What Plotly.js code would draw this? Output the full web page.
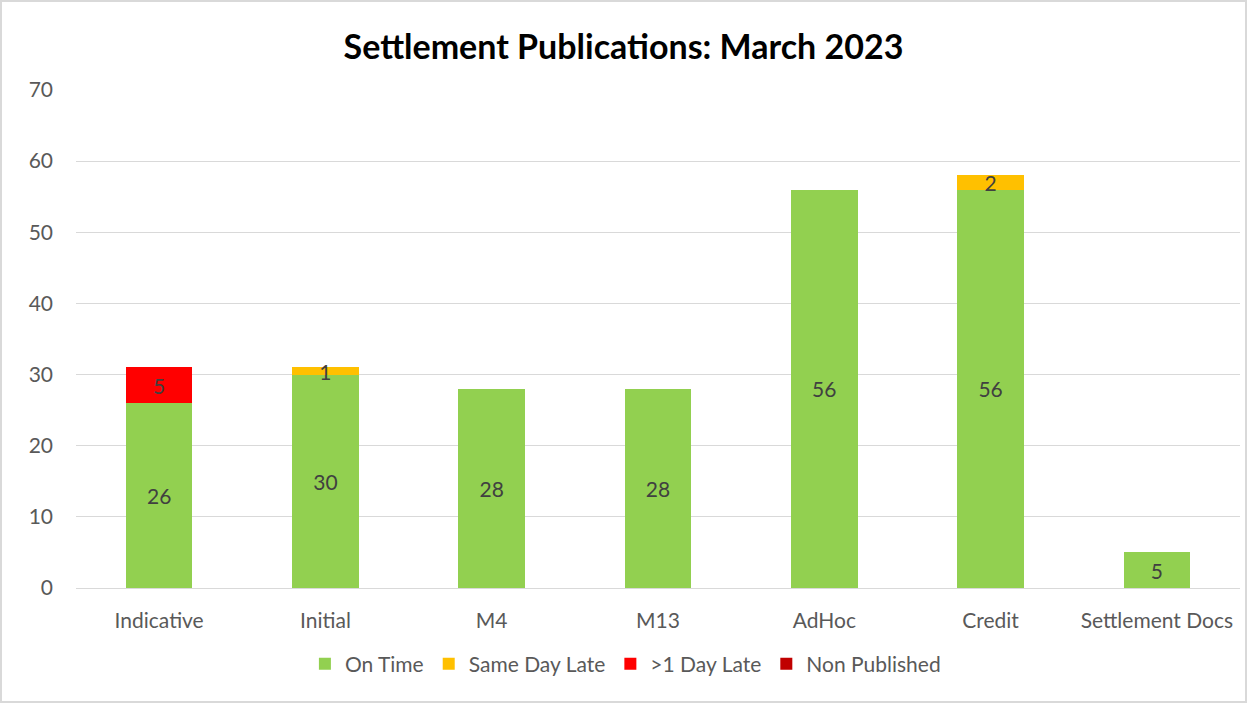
<!DOCTYPE html>
<html>
<head>
<meta charset="utf-8">
<script src="https://cdn.plot.ly/plotly-3.0.1.min.js"></script>
<style>
html,body{margin:0;padding:0;background:#fff;}
#chart{width:1247px;height:703px;box-sizing:border-box;border:2px solid #d9d9d9;}
</style>
</head>
<body>
<div id="chart"></div>
<script>
const categories = ["Indicative", "Initial", "M4", "M13", "AdHoc", "Credit", "Settlement Docs"];
const onTime = [26, 30, 28, 28, 56, 56, 5];
const sameDayLate = [0, 1, 0, 0, 0, 2, 0];
const overOneDayLate = [5, 0, 0, 0, 0, 0, 0];
const nonPublished = [0, 0, 0, 0, 0, 0, 0];

const seriesNames = ["On Time", "Same Day Late", ">1 Day Late", "Non Published"];
const seriesColors = ["#92D050", "#FFC000", "#FF0000", "#C00000"];
const seriesValues = [onTime, sameDayLate, overOneDayLate, nonPublished];

const font = "Lato, Open Sans, sans-serif";

const traces = seriesValues.map((vals, i) => ({
  type: "bar",
  name: seriesNames[i],
  x: categories,
  y: vals,
  marker: {color: seriesColors[i]},
  text: vals.map(v => v > 0 ? String(v) : ""),
  textposition: "inside",
  insidetextanchor: "middle",
  constraintext: "none",
  textangle: 0,
  textfont: {family: font, size: 21, color: "#404040"},
  hoverinfo: "name+y"
}));

const layout = {
  barmode: "stack",
  bargap: 0.6,
  width: 1243,
  height: 699,
  margin: {l: 74, r: 5, t: 88, b: 113},
  paper_bgcolor: "#fff",
  plot_bgcolor: "#fff",
  title: {
    text: "<b>Settlement Publications: March 2023</b>",
    font: {family: font, size: 34, color: "#000"},
    x: 0.5, xanchor: "center", y: 0.935, yanchor: "middle"
  },
  xaxis: {
    type: "category",
    showgrid: false,
    showline: true,
    linecolor: "#d9d9d9",
    linewidth: 1,
    ticks: "",
    ticklabelstandoff: 14,
    tickfont: {family: font, size: 21, color: "#595959"},
    fixedrange: true
  },
  yaxis: {
    range: [0, 70],
    dtick: 10,
    showgrid: true,
    gridcolor: "#d9d9d9",
    gridwidth: 1,
    zeroline: false,
    ticks: "",
    ticklabelstandoff: 22,
    tickfont: {family: font, size: 21, color: "#595959"},
    fixedrange: true
  },
  legend: {
    orientation: "h",
    x: 0.472, xanchor: "center",
    y: -0.153, yanchor: "middle",
    font: {family: font, size: 21, color: "#595959"},
    itemwidth: 30,
    traceorder: "normal"
  },
  showlegend: true
};

Plotly.newPlot("chart", traces, layout, {displayModeBar: false, staticPlot: true});
</script>
</body>
</html>
